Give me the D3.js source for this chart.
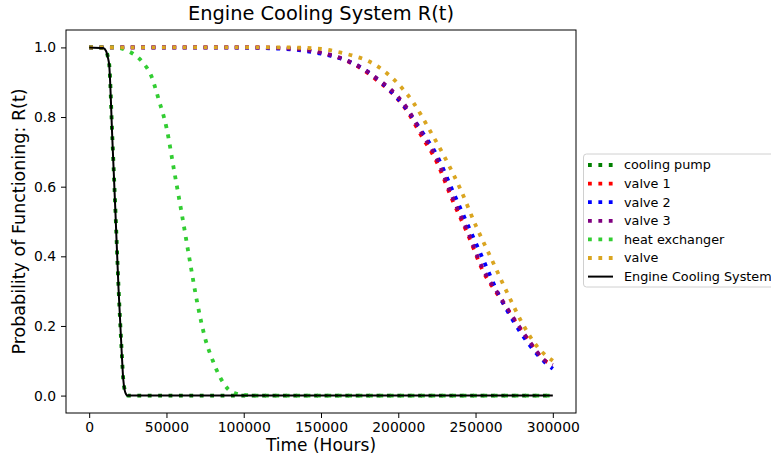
<!DOCTYPE html>
<html>
<head>
<meta charset="utf-8">
<script src="https://cdn.jsdelivr.net/npm/d3@7"></script>
<style>
  body { margin: 0; background: white; }
  text { font-family: "DejaVu Sans", sans-serif; fill: #000; }
</style>
</head>
<body>
<div id="container"></div>
<script>
/* DATA */
const seriesNames = ["cooling pump", "valve 1", "valve 2", "valve 3", "heat exchanger", "valve", "Engine Cooling System"];
const seriesColors = ["green", "red", "blue", "purple", "limegreen", "goldenrod", "black"];

const pumpTime = [0, 9000, 11000, 12000, 13000, 15000, 17000, 19000, 21000, 22000, 23000, 24000, 25000, 300000];
const pumpR = [1, 0.998, 0.99, 0.975, 0.95, 0.74, 0.53, 0.31, 0.13, 0.05, 0.015, 0.003, 0, 0];

const systemTime = [0, 9000, 11000, 12000, 13000, 15000, 17000, 19000, 21000, 22000, 23000, 24000, 25000, 300000];
const systemR = [1, 0.998, 0.989, 0.973, 0.947, 0.735, 0.525, 0.306, 0.128, 0.049, 0.015, 0.003, 0, 0];

const heatTime = [0, 15000, 20000, 25000, 30000, 35000, 40000, 45000, 50000, 55000, 60000, 65000, 70000, 75000, 80000, 85000, 90000, 95000, 100000, 110000, 300000];
const heatR = [1, 1, 0.998, 0.99, 0.977, 0.955, 0.92, 0.85, 0.77, 0.645, 0.52, 0.39, 0.265, 0.165, 0.1, 0.05, 0.018, 0.006, 0.002, 0, 0];

const valveTime = [0, 100000, 125000, 150000, 165000, 175000, 185000, 195000, 205000, 215000, 225000, 235000, 245000, 255000, 265000, 275000, 285000, 295000, 300000];
const valve1R = [1, 1, 0.998, 0.984, 0.964, 0.942, 0.91, 0.873, 0.822, 0.746, 0.67, 0.562, 0.463, 0.356, 0.286, 0.218, 0.154, 0.1, 0.09];
const valve2R = [1, 0.999, 0.996, 0.982, 0.965, 0.945, 0.914, 0.875, 0.825, 0.76, 0.69, 0.59, 0.49, 0.39, 0.29, 0.21, 0.145, 0.095, 0.077];
const valve3R = [1, 1, 0.998, 0.985, 0.966, 0.945, 0.915, 0.88, 0.83, 0.755, 0.68, 0.57, 0.47, 0.362, 0.29, 0.22, 0.155, 0.1, 0.088];

const valveGTime = [0, 125000, 150000, 160000, 170000, 180000, 190000, 200000, 210000, 220000, 230000, 240000, 250000, 260000, 270000, 280000, 290000, 300000];
const valveGR = [1, 1, 0.996, 0.988, 0.977, 0.962, 0.935, 0.895, 0.84, 0.765, 0.685, 0.595, 0.49, 0.395, 0.3, 0.21, 0.14, 0.1];

const xTicks = [0, 50000, 100000, 150000, 200000, 250000, 300000];
const yTicks = [0, 0.2, 0.4, 0.6, 0.8, 1.0];

const zip = (ts, rs) => ts.map((t, i) => ({ t: t, r: rs[i] }));
const dataset = [
    zip(pumpTime, pumpR),
    zip(valveTime, valve1R),
    zip(valveTime, valve2R),
    zip(valveTime, valve3R),
    zip(heatTime, heatR),
    zip(valveGTime, valveGR),
    zip(systemTime, systemR)
];

/* CONSTANTS */
const width = 771;
const height = 454;
const margin = { left: 66, right: 195, top: 30, bottom: 41 };

const svg = d3.select("#container")
    .append("svg")
    .attr("width", width)
    .attr("height", height);

/* SCALES */
const xScale = d3.scaleLinear()
    .domain([-15000, 315000])
    .range([margin.left, width - margin.right]);

const yScale = d3.scaleLinear()
    .domain([-0.05, 1.05])
    .range([height - margin.bottom, margin.top]);

svg.append("defs").append("clipPath")
    .attr("id", "plot")
    .append("rect")
    .attr("x", margin.left)
    .attr("y", margin.top)
    .attr("width", width - margin.left - margin.right)
    .attr("height", height - margin.top - margin.bottom);

/* LINES */
const line = d3.line()
    .x(d => xScale(d.t))
    .y(d => yScale(d.r))
    .curve(d3.curveMonotoneX);

svg.append("g")
    .attr("clip-path", "url(#plot)")
    .selectAll("path")
    .data(dataset)
    .join("path")
    .attr("d", line)
    .attr("fill", "none")
    .attr("stroke", (d, i) => seriesColors[i])
    .attr("stroke-width", (d, i) => i === 6 ? 2 : 3.8)
    .attr("stroke-dasharray", (d, i) => i === 6 ? null : "3.8 6.6");

/* AXES */
const xAxis = d3.axisBottom(xScale).tickValues(xTicks).tickFormat(d3.format("d")).tickSize(5).tickPadding(4);
const yAxis = d3.axisLeft(yScale).tickValues(yTicks).tickFormat(d3.format(".1f")).tickSize(5).tickPadding(5);

const gx = svg.append("g")
    .attr("transform", "translate(0," + (height - margin.bottom) + ")")
    .call(xAxis);
const gy = svg.append("g")
    .attr("transform", "translate(" + margin.left + ",0)")
    .call(yAxis);

[gx, gy].forEach(g => {
    g.select(".domain").remove();
    g.selectAll("line").attr("stroke", "#000").attr("stroke-width", 1);
    g.selectAll("text").style("font-size", "13.9px").style("font-family", "DejaVu Sans").attr("fill", "#000");
});

// frame
svg.append("rect")
    .attr("x", margin.left)
    .attr("y", margin.top)
    .attr("width", width - margin.left - margin.right)
    .attr("height", height - margin.top - margin.bottom)
    .attr("fill", "none")
    .attr("stroke", "#000")
    .attr("stroke-width", 1);

/* LABELS */
const cx = (margin.left + width - margin.right) / 2;
svg.append("text")
    .attr("x", cx)
    .attr("y", 20)
    .attr("text-anchor", "middle")
    .style("font-size", "19.4px")
    .text("Engine Cooling System R(t)");

svg.append("text")
    .attr("x", cx)
    .attr("y", 451)
    .attr("text-anchor", "middle")
    .style("font-size", "17px")
    .text("Time (Hours)");

svg.append("text")
    .attr("transform", "rotate(-90)")
    .attr("x", -((margin.top + height - margin.bottom) / 2))
    .attr("y", 25)
    .attr("text-anchor", "middle")
    .style("font-size", "17.5px")
    .text("Probability of Functioning: R(t)");

/* LEGEND */
const legend = svg.append("g").attr("transform", "translate(583,154)");
legend.append("rect")
    .attr("x", 0.5)
    .attr("y", 0)
    .attr("width", 200)
    .attr("height", 133)
    .attr("rx", 3)
    .attr("fill", "white")
    .attr("fill-opacity", 0.8)
    .attr("stroke", "#d0d0d0");

const rows = legend.selectAll(".row")
    .data(seriesNames)
    .join("g")
    .attr("class", "row")
    .attr("transform", (d, i) => "translate(0," + (11 + i * 18.6) + ")");

rows.append("line")
    .attr("x1", 5)
    .attr("x2", 30)
    .attr("stroke", (d, i) => seriesColors[i])
    .attr("stroke-width", (d, i) => i === 6 ? 2 : 3.8)
    .attr("stroke-dasharray", (d, i) => i === 6 ? null : "3.8 6.6");

rows.append("text")
    .attr("x", 41)
    .attr("dy", "0.35em")
    .style("font-size", "12.8px")
    .text(d => d);
</script>
</body>
</html>
